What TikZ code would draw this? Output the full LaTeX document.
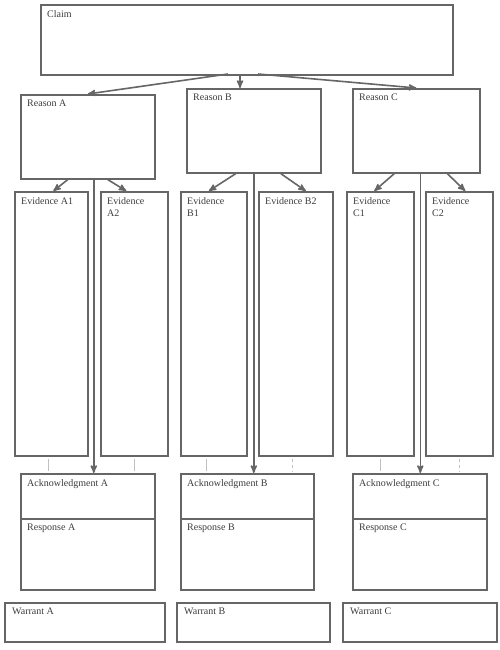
\documentclass[tikz,border=0pt]{standalone}
\usepackage{fontspec}
\setmainfont{Liberation Serif}
\usetikzlibrary{arrows}
\definecolor{linegray}{HTML}{666666}
\definecolor{textgray}{HTML}{3C3C3C}
\definecolor{faintgray}{HTML}{C0C0C0}
\tikzset{
	node_box/.style = {
		rectangle,
		draw=linegray,
		line width=1.6pt,
		inner sep=0pt,
		anchor=north west
	},
	box_text/.style = {
		anchor=north west,
		inner sep=0pt,
		xshift=7pt,
		yshift=-6pt,
		align=left,
		text=textgray,
		font=\fontsize{10}{12}\selectfont
	},
	node_reason/.style = {
		node_box,
		minimum height=84pt
	},
	node_ev/.style = {
		node_box,
		minimum height=264pt
	},
	node_ack/.style = {
		node_box,
		minimum height=45pt
	},
	node_resp/.style = {
		node_box,
		minimum height=71pt
	},
	node_warrant/.style = {
		node_box,
		minimum height=39pt
	},
	arr/.style = {
		->,
		>=stealth',
		draw=linegray,
		line width=1.6pt
	},
	faint/.style = {
		draw=faintgray,
		line width=1.1pt,
		shorten <=2pt,
		shorten >=2pt
	},
}
\begin{document}
\begin{tikzpicture}[x=1pt,y=-1pt]
\useasboundingbox (0,0) rectangle (500,650);

% claim and reasons
\node [node_box, minimum width=412pt, minimum height=70pt, label={[box_text]north west:Claim}] (claim) at (40,4) {};
\node [node_reason, minimum width=134pt, label={[box_text]north west:Reason A}] (reasonA) at (20,94) {};
\node [node_reason, minimum width=134pt, label={[box_text]north west:Reason B}] (reasonB) at (186,88) {};
\node [node_reason, minimum width=127pt, label={[box_text]north west:Reason C}] (reasonC) at (352,88) {};

% evidence
\node [node_ev, minimum width=73pt, label={[box_text]north west:Evidence A1}] (evA1) at (14,191) {};
\node [node_ev, minimum width=67pt, label={[box_text]north west:Evidence\\A2}] (evA2) at (100,191) {};
\node [node_ev, minimum width=66pt, label={[box_text]north west:Evidence\\B1}] (evB1) at (180,191) {};
\node [node_ev, minimum width=74pt, label={[box_text]north west:Evidence B2}] (evB2) at (258,191) {};
\node [node_ev, minimum width=67pt, label={[box_text]north west:Evidence\\C1}] (evC1) at (346,191) {};
\node [node_ev, minimum width=67pt, label={[box_text]north west:Evidence\\C2}] (evC2) at (425,191) {};

% acknowledgment / response
\node [node_ack, minimum width=134pt, label={[box_text]north west:Acknowledgment A}] (ackA) at (20,473) {};
\node [node_resp, minimum width=134pt, label={[box_text]north west:Response A}] (respA) at (20,518) {};
\node [node_ack, minimum width=133pt, label={[box_text]north west:Acknowledgment B}] (ackB) at (180,473) {};
\node [node_resp, minimum width=133pt, label={[box_text]north west:Response B}] (respB) at (180,518) {};
\node [node_ack, minimum width=134pt, label={[box_text]north west:Acknowledgment C}] (ackC) at (352,473) {};
\node [node_resp, minimum width=134pt, label={[box_text]north west:Response C}] (respC) at (352,518) {};

% warrants
\node [node_warrant, minimum width=160pt, label={[box_text, xshift=1pt]north west:Warrant A}] (warA) at (4,602) {};
\node [node_warrant, minimum width=153pt, label={[box_text, xshift=1pt]north west:Warrant B}] (warB) at (176,602) {};
\node [node_warrant, minimum width=154pt, label={[box_text, xshift=1pt]north west:Warrant C}] (warC) at (342,602) {};

% claim -> reasons
\coordinate (fork) at (240,74);
\draw [arr] ([xshift=-12pt]fork) -- (reasonA.north);
\draw [arr] (fork) -- (fork |- reasonB.north);
\draw [arr] ([xshift=18pt]fork) -- (reasonC.north);

% reasons -> evidence
\draw [arr] ([xshift=-20pt]reasonA.south) -- ([xshift=2pt]evA1.north);
\draw [arr] ([xshift=20pt]reasonA.south) -- ([xshift=-8pt]evA2.north);
\draw [arr] ([xshift=-18pt]reasonB.south) -- ([xshift=-5pt]evB1.north);
\draw [arr] ([xshift=27pt]reasonB.south) -- ([xshift=10pt]evB2.north);
\draw [arr] ([xshift=-22pt]reasonC.south) -- ([xshift=-6pt]evC1.north);
\draw [arr] ([xshift=31pt]reasonC.south) -- ([xshift=6pt]evC2.north);

% reasons -> acknowledgment
\draw [arr] ([xshift=6pt]reasonA.south) coordinate (downA) -- (downA |- ackA.north);
\draw [arr] (reasonB.south) coordinate (downB) -- (downB |- ackB.north);
\draw [arr] ([xshift=4pt]reasonC.south) coordinate (downC) -- (downC |- ackC.north);

% evidence -> acknowledgment
\draw [faint] ([xshift=-3pt]evA1.south) coordinate (lnA1) -- (lnA1 |- ackA.north);
\draw [faint] (evA2.south) coordinate (lnA2) -- (lnA2 |- ackA.north);
\draw [faint] ([xshift=-7pt]evB1.south) coordinate (lnB1) -- (lnB1 |- ackB.north);
\draw [faint, dashed] ([xshift=-3pt]evB2.south) coordinate (lnB2) -- (lnB2 |- ackB.north);
\draw [faint] (evC1.south) coordinate (lnC1) -- (lnC1 |- ackC.north);
\draw [faint, dashed] (evC2.south) coordinate (lnC2) -- (lnC2 |- ackC.north);
\end{tikzpicture}
\end{document}
